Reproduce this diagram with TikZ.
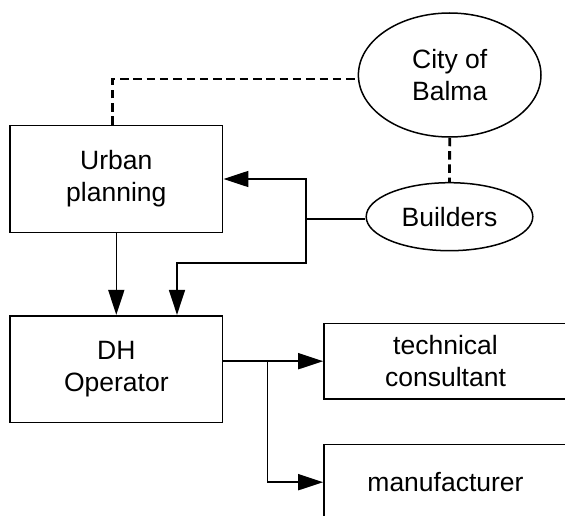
\documentclass[tikz,border=0pt]{standalone}
\usepackage{fontspec}
\setmainfont{Liberation Sans}
\usetikzlibrary{arrows.meta,shapes.geometric}
\begin{document}
\begin{tikzpicture}[x=1pt,y=-1pt,
  every node/.style={font=\fontsize{26.5}{32}\selectfont, align=center, inner sep=0pt},
  boxnode/.style={draw, line width=1.6pt, minimum width=212.7pt, minimum height=106.6pt},
  sidebox/.style={draw, line width=1.6pt, minimum width=243pt, minimum height=75.7pt},
  ellnode/.style={draw, ellipse, line width=1.5pt},
  conn/.style={line width=1.6pt},
  arr/.style={conn, -{Triangle[length=25pt,width=16pt]}},
  dashline/.style={line width=2.8pt, dash pattern=on 8.5pt off 4.8pt}
]
\useasboundingbox (0,0) rectangle (565,516);
\begin{scope}
\clip (0,0) rectangle (565,516);
\node[boxnode] (urban) at (116.3,179) {Urban\\planning};
\node[boxnode] (dh) at (116.3,369) {DH\\Operator};
\node[ellnode, minimum width=182.6pt, minimum height=124pt] (city) at (449.7,75) {City of\\Balma};
\node[ellnode, minimum width=166.6pt, minimum height=68pt] (builders) at (449.5,216.7) {Builders};
\node[sidebox] (tech) at (445.5,361.2) {technical\\consultant};
\node[sidebox] (manu) at (445.5,482.2) {manufacturer};

\coordinate (d1) at (112.7,79);
\coordinate (j1) at (305.7,219);
\coordinate (c2) at (177,262.7);
\coordinate (j3) at (267.3,361.2);

\draw[dashline] (d1 |- urban.north) -- (d1) -- (d1 -| city.west);
\draw[dashline] (city.south) -- (builders.north);
\draw[conn] (builders.west |- j1) -- (j1);
\draw[arr] (j1) |- (urban.east);
\draw[arr] (j1) |- (c2) -- (c2 |- dh.north);
\draw[arr] (urban.south) -- (dh.north);
\draw[conn] (dh.east |- j3) -- (j3);
\draw[arr] (j3) -- (tech.west);
\draw[arr] (j3) |- (manu.west);
\end{scope}
\end{tikzpicture}
\end{document}
